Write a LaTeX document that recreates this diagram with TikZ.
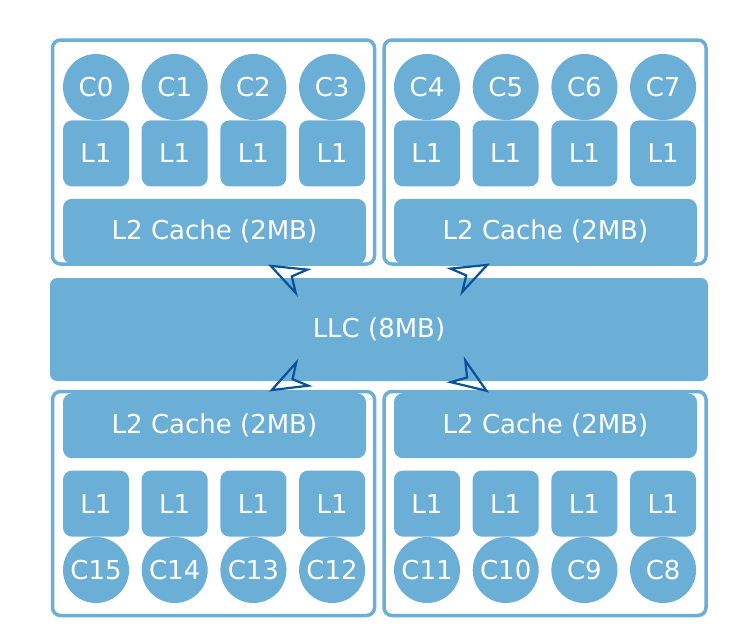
\documentclass[tikz,border=0pt]{standalone}
\usepackage{fontspec}
\setmainfont{DejaVu Sans}
\usetikzlibrary{arrows.meta, positioning}
\definecolor{cachefill}{HTML}{6BAED6}
\definecolor{linkblue}{HTML}{08519C}

\begin{document}
\begin{tikzpicture}[
		x=1pt, y=-1pt,
		core/.style={circle, fill=cachefill, text=white, minimum size=66pt, inner sep=0pt, font=\fontsize{26}{31}\selectfont},
		lone/.style={rectangle, rounded corners=9pt, fill=cachefill, text=white, minimum size=66pt, inner sep=0pt, font=\fontsize{26}{31}\selectfont},
		ltwo/.style={rectangle, rounded corners=9pt, fill=cachefill, text=white, minimum width=303pt, minimum height=65pt, inner sep=0pt, font=\fontsize{26}{31}\selectfont},
		llcbox/.style={rectangle, rounded corners=7pt, fill=cachefill, text=white, minimum width=658pt, minimum height=103pt, inner sep=0pt, font=\fontsize{26}{31}\selectfont},
		cluster/.style={rectangle, rounded corners=8pt, draw=cachefill, line width=3.5pt, minimum width=322pt, minimum height=224pt},
		link/.style={-{Stealth[open, length=41pt, width=31pt, inset=13pt]}, draw=linkblue, line width=2.2pt},
		node distance=12.3pt
		]
		\useasboundingbox (0,0) rectangle (740,638);
		
		% Rahmen der Cluster
		\node[cluster] (grp0) at (213.5,152) {};
		\node[cluster] (grp1) at (545,152) {};
		\node[cluster] (grp2) at (213.5,503.5) {};
		\node[cluster] (grp3) at (545,503.5) {};
		
		% Cluster oben links
		\node[core] (c0) at (96,87) {C0};
		\node[core, right=of c0] (c1) {C1};
		\node[core, right=of c1] (c2) {C2};
		\node[core, right=of c2] (c3) {C3};
		\node[lone, below=0pt of c0] (l1c0) {L1};
		\node[lone, below=0pt of c1] (l1c1) {L1};
		\node[lone, below=0pt of c2] (l1c2) {L1};
		\node[lone, below=0pt of c3] (l1c3) {L1};
		\node[ltwo, below=12pt of l1c0.south west, anchor=north west] (l2a) {L2 Cache (2MB)};
		
		% Cluster oben rechts
		\node[core] (c4) at (427,87) {C4};
		\node[core, right=of c4] (c5) {C5};
		\node[core, right=of c5] (c6) {C6};
		\node[core, right=of c6] (c7) {C7};
		\node[lone, below=0pt of c4] (l1c4) {L1};
		\node[lone, below=0pt of c5] (l1c5) {L1};
		\node[lone, below=0pt of c6] (l1c6) {L1};
		\node[lone, below=0pt of c7] (l1c7) {L1};
		\node[ltwo, below=12pt of l1c4.south west, anchor=north west] (l2b) {L2 Cache (2MB)};
		
		% gemeinsamer Cache
		\node[llcbox] (llc) at (379,329.5) {LLC (8MB)};
		
		% Cluster unten links
		\node[core] (c15) at (96,570) {C15};
		\node[core, right=of c15] (c14) {C14};
		\node[core, right=of c14] (c13) {C13};
		\node[core, right=of c13] (c12) {C12};
		\node[lone, above=0pt of c15] (l1c15) {L1};
		\node[lone, above=0pt of c14] (l1c14) {L1};
		\node[lone, above=0pt of c13] (l1c13) {L1};
		\node[lone, above=0pt of c12] (l1c12) {L1};
		\node[ltwo, above=12pt of l1c15.north west, anchor=south west] (l2c) {L2 Cache (2MB)};
		
		% Cluster unten rechts
		\node[core] (c11) at (427,570) {C11};
		\node[core, right=of c11] (c10) {C10};
		\node[core, right=of c10] (c9) {C9};
		\node[core, right=of c9] (c8) {C8};
		\node[lone, above=0pt of c11] (l1c11) {L1};
		\node[lone, above=0pt of c10] (l1c10) {L1};
		\node[lone, above=0pt of c9] (l1c9) {L1};
		\node[lone, above=0pt of c8] (l1c8) {L1};
		\node[ltwo, above=12pt of l1c11.north west, anchor=south west] (l2d) {L2 Cache (2MB)};
		
		% Pfeile LLC -> L2
		\coordinate (t0) at (292,276.5);
		\coordinate (h0) at (268,264.5);
		\coordinate (t1) at (466,275.5);
		\coordinate (h1) at (490,263.5);
		\coordinate (t2) at (292,379.5);
		\coordinate (h2) at (269,391.5);
		\coordinate (t3) at (467,377.5);
		\coordinate (h3) at (489,392.5);
		\draw[link] (t0) -- (h0);
		\draw[link] (t1) -- (h1);
		\draw[link] (t2) -- (h2);
		\draw[link] (t3) -- (h3);
		
	\end{tikzpicture}
\end{document}
